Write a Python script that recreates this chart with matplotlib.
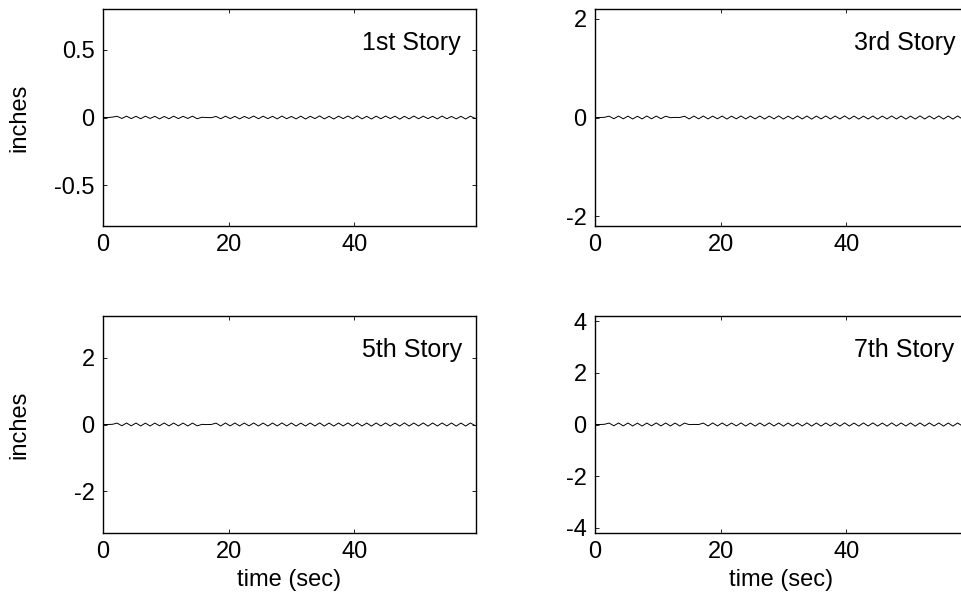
import numpy as np
import matplotlib
matplotlib.use('Agg')
import matplotlib.pyplot as plt

# tiempo de muestreo (s)
t_sec = [
    0.0, 0.75, 1.5, 2.25, 3.0, 3.75, 4.5, 5.25, 6.0, 6.75,
    7.5, 8.25, 9.0, 9.75, 10.5, 11.25, 12.0, 12.75, 13.5, 14.25,
    15.0, 15.75, 16.5, 17.25, 18.0, 18.75, 19.5, 20.25, 21.0, 21.75,
    22.5, 23.25, 24.0, 24.75, 25.5, 26.25, 27.0, 27.75, 28.5, 29.25,
    30.0, 30.75, 31.5, 32.25, 33.0, 33.75, 34.5, 35.25, 36.0, 36.75,
    37.5, 38.25, 39.0, 39.75, 40.5, 41.25, 42.0, 42.75, 43.5, 44.25,
    45.0, 45.75, 46.5, 47.25, 48.0, 48.75, 49.5, 50.25, 51.0, 51.75,
    52.5, 53.25, 54.0, 54.75, 55.5, 56.25, 57.0, 57.75, 58.5, 59.25,
]

# desplazamientos por piso (pulgadas)
story1 = [
    0.0, 0.0, 0.003, 0.009, -0.007, 0.010, -0.008, 0.009, -0.009, 0.010,
    -0.007, 0.009, -0.010, 0.008, -0.009, 0.010, -0.008, 0.009, -0.007, 0.010,
    -0.009, 0.002, 0.000, -0.001, 0.008, -0.009, 0.010, -0.008, 0.009, -0.010,
    0.008, -0.007, 0.011, -0.009, 0.010, -0.008, 0.009, -0.010, 0.011, -0.009,
    0.008, -0.010, 0.010, -0.011, 0.009, -0.008, 0.012, -0.010, 0.009, -0.011,
    0.010, -0.008, 0.011, -0.009, 0.012, -0.010, 0.009, -0.011, 0.010, -0.009,
    0.011, -0.008, 0.010, -0.012, 0.009, -0.010, 0.011, -0.009, 0.010, -0.008,
    0.009, -0.010, 0.011, -0.009, 0.008, -0.010, 0.009, -0.011, 0.010, -0.006,
]
story3 = [
    0.0, 0.0, 0.004, 0.028, -0.025, 0.030, -0.027, 0.029, -0.030, 0.026,
    -0.028, 0.031, -0.026, 0.029, -0.024, 0.027, -0.003, 0.002, 0.001, 0.026,
    -0.029, 0.030, -0.027, 0.031, -0.028, 0.029, -0.026, 0.030, -0.031, 0.028,
    -0.027, 0.032, -0.029, 0.030, -0.028, 0.031, -0.030, 0.029, -0.027, 0.033,
    -0.031, 0.028, -0.030, 0.032, -0.029, 0.031, -0.033, 0.030, -0.028, 0.032,
    -0.030, 0.031, -0.029, 0.033, -0.031, 0.030, -0.032, 0.029, -0.030, 0.031,
    -0.033, 0.030, -0.029, 0.032, -0.030, 0.031, -0.032, 0.029, -0.031, 0.033,
    -0.030, 0.031, -0.029, 0.032, -0.031, 0.030, -0.032, 0.031, -0.029, 0.020,
]
story5 = [
    0.0, 0.0, 0.006, 0.042, -0.038, 0.045, -0.040, 0.044, -0.043, 0.041,
    -0.045, 0.043, -0.039, 0.046, -0.042, 0.044, -0.041, 0.043, -0.044, 0.042,
    -0.040, 0.004, -0.002, 0.001, 0.041, -0.044, 0.046, -0.042, 0.045, -0.043,
    0.044, -0.041, 0.047, -0.045, 0.043, -0.046, 0.044, -0.042, 0.048, -0.044,
    0.045, -0.047, 0.043, -0.045, 0.046, -0.044, 0.048, -0.046, 0.044, -0.047,
    0.045, -0.043, 0.047, -0.046, 0.049, -0.045, 0.044, -0.048, 0.046, -0.044,
    0.047, -0.045, 0.043, -0.047, 0.048, -0.046, 0.045, -0.044, 0.047, -0.049,
    0.046, -0.045, 0.047, -0.043, 0.046, -0.048, 0.044, -0.046, 0.045, -0.030,
]
story7 = [
    0.0, 0.0, 0.008, 0.055, -0.050, 0.060, -0.054, 0.058, -0.057, 0.053,
    -0.059, 0.056, -0.052, 0.061, -0.055, 0.058, -0.056, 0.057, -0.058, 0.054,
    -0.004, 0.003, -0.002, 0.055, -0.058, 0.061, -0.056, 0.059, -0.057, 0.058,
    -0.055, 0.062, -0.060, 0.057, -0.061, 0.059, -0.056, 0.063, -0.058, 0.060,
    -0.062, 0.057, -0.060, 0.061, -0.058, 0.063, -0.061, 0.059, -0.062, 0.060,
    -0.057, 0.062, -0.061, 0.064, -0.060, 0.058, -0.063, 0.061, -0.059, 0.062,
    -0.060, 0.057, -0.062, 0.063, -0.061, 0.060, -0.058, 0.062, -0.064, 0.061,
    -0.060, 0.062, -0.057, 0.061, -0.063, 0.058, -0.061, 0.060, -0.059, 0.040,
]

labels = ['1st Story', '3rd Story', '5th Story', '7th Story']
ylims = [0.8, 2.2, 3.25, 4.2]
yticks = [[-0.5, 0, 0.5], [-2, 0, 2], [-2, 0, 2], [-4, -2, 0, 2, 4]]
yticklabels = [['-0.5', '0', '0.5'], ['-2', '0', '2'], ['-2', '0', '2'],
               ['-4', '-2', '0', '2', '4']]
xticks = [0, 20, 40]
xmax = 59.4


def main() -> None:
    plt.rcParams['font.family'] = ['Liberation Sans', 'DejaVu Sans']
    fig = plt.figure(figsize=(9.61, 6.05), dpi=100)

    # posiciones de los ejes en fracciones de la figura
    w, h = 373 / 961, 217 / 605
    pos = [(103 / 961, 0.6264), (595 / 961, 0.6264),
           (103 / 961, 0.119), (595 / 961, 0.119)]
    data = [story1, story3, story5, story7]
    fs = 17

    for i in range(4):
        ax = fig.add_axes([pos[i][0], pos[i][1], w, h])
        ax.plot(t_sec, data[i], color='black', linewidth=0.7)
        ax.set_xlim(0, xmax)
        ax.set_ylim(-ylims[i], ylims[i])
        ax.set_xticks(xticks)
        ax.set_xticklabels([str(x) for x in xticks])
        ax.set_yticks(yticks[i])
        ax.set_yticklabels(yticklabels[i])
        ax.tick_params(direction='in', top=True, right=True, length=3,
                       width=0.6, labelsize=fs, pad=6)
        for s in ax.spines.values():
            s.set_linewidth(1.0)
        ax.text(41.2, 0.845, labels[i], transform=ax.get_xaxis_transform(),
                fontsize=18, ha='left', va='center')
        if i % 2 == 0:
            ax.set_ylabel('inches', fontsize=fs, va='center')
            ax.yaxis.set_label_coords(-0.225, 0.5)
        if i >= 2:
            ax.set_xlabel('time (sec)', fontsize=fs, labelpad=4)

    fig.savefig('out.png', dpi=100)


if __name__ == '__main__':
    main()
